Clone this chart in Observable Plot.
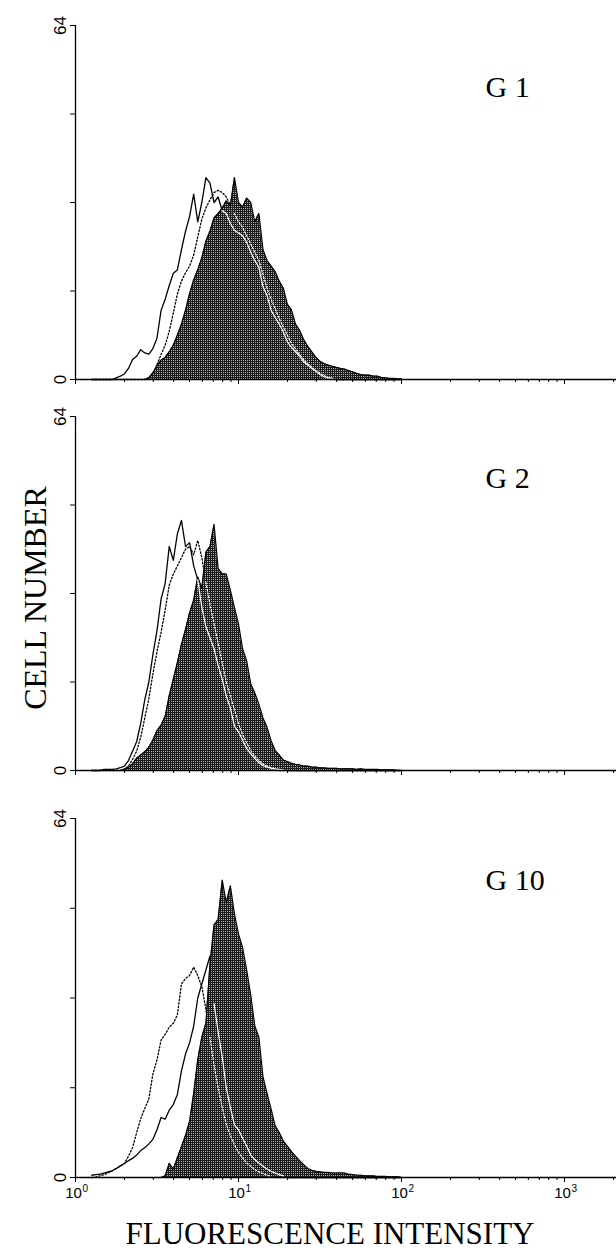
<!DOCTYPE html>
<html><head><meta charset="utf-8">
<script src="https://cdn.jsdelivr.net/npm/d3@7"></script>
<script src="https://cdn.jsdelivr.net/npm/@observablehq/plot@0.6"></script>
<style>
html,body{margin:0;padding:0;background:#fff;}
#fig{position:relative;width:616px;height:1254px;overflow:hidden;background:#fff;}
.panel{position:absolute;left:0;}
.ttl{position:absolute;font-family:"Liberation Serif","Times New Roman",serif;color:#000;white-space:nowrap;line-height:1;}
</style></head><body>
<div id="fig"></div>
<script>
// Channel grid (log10 of fluorescence intensity), instrument bins
const logStart = 0.1, logStep = 0.025, nBins = 77;

// Panel G 1
const g1Solid = [
 0,0,0,0,0,0,0.3,0.6,1.0,2.0,
 3.6,4.2,5.4,4.8,4.6,5.6,7.5,12.5,14.5,17.0,
 19.2,19.8,23.5,26.8,29.5,33.5,28.5,32.0,36.5,35.5,
 32.0,33.0,30.5,30.0,28.2,27.0,26.5,26.0,24.8,23.0,
 21.5,20.3,16.8,15.2,12.5,11.2,10.0,8.6,6.8,5.8,
 5.0,4.2,3.2,2.6,2.0,1.5,0.9,0.5,0.3,0.2,
 0,0,0,0,0,0,0,0,0,0,
 0,0,0,0,0,0,0];
const g1Dotted = [
 0,0,0,0,0,0,0,0,0,0,
 0,0,0,0,0.3,1.0,2.7,4.5,6.2,8.7,
 12.0,15.5,17.8,19.3,20.5,22.5,25.8,29.0,31.0,32.5,
 33.8,34.2,33.8,33.0,31.5,30.0,28.5,27.5,26.0,24.5,
 23.0,21.5,19.0,16.5,14.5,12.8,11.0,9.5,8.0,6.5,
 5.5,4.5,3.6,2.8,2.2,1.6,1.1,0.7,0.4,0.2,
 0,0,0,0,0,0,0,0,0,0,
 0,0,0,0,0,0,0];
const g1Filled = [
 0,0,0,0,0,0,0,0,0,0,
 0,0,0,0,0.3,1.2,2.5,3.5,4.0,5.0,
 6.2,8.0,10.0,12.5,15.5,18.0,19.8,22.0,25.0,26.8,
 29.2,30.0,31.0,32.3,31.4,36.5,32.0,31.2,32.8,32.0,
 28.5,30.0,23.5,21.5,20.5,19.5,17.8,16.5,13.6,12.6,
 10.0,8.9,7.2,6.0,5.0,4.0,3.3,2.9,2.6,2.4,
 2.2,2.0,1.9,1.6,1.4,1.1,0.9,0.8,0.8,0.6,
 0.6,0.4,0.3,0.2,0.2,0.1,0.1];

// Panel G 2
const g2Solid = [
 0,0,0,0.2,0.2,0.2,0.3,0.5,0.8,1.8,
 3.5,5.2,8.5,12.8,16.0,21.0,25.3,31.0,33.8,40.5,
 38.0,42.8,45.2,40.5,41.2,37.0,34.5,29.5,26.0,24.0,
 22.0,19.0,16.5,13.5,11.3,8.0,7.0,5.5,4.0,3.0,
 2.2,1.4,0.9,0.6,0.4,0.3,0.2,0.1,0,0,
 0,0,0,0,0,0,0,0,0,0,
 0,0,0,0,0,0,0,0,0,0,
 0,0,0,0,0,0,0];
const g2Dotted = [
 0,0,0,0,0,0,0,0,0.3,0.8,
 2.0,3.5,6.0,9.5,13.0,17.5,21.5,25.0,29.0,33.5,
 35.5,37.0,38.5,40.0,40.5,39.0,41.6,38.5,34.0,30.0,
 26.5,23.0,19.5,16.0,13.5,11.0,8.5,6.5,5.0,3.6,
 2.6,1.8,1.2,0.8,0.5,0.3,0,0,0,0,
 0,0,0,0,0,0,0,0,0,0,
 0,0,0,0,0,0,0,0,0,0,
 0,0,0,0,0,0,0];
const g2Filled = [
 0,0,0,0,0,0,0,0,0.2,0.6,
 1.2,2.2,2.8,3.4,4.2,5.5,7.2,8.2,9.8,13.5,
 16.5,19.5,22.8,25.5,28.5,30.8,35.0,33.0,39.5,40.5,
 44.5,36.5,35.6,35.5,32.6,29.5,26.5,22.0,19.8,15.7,
 14.0,12.0,9.5,7.8,5.4,3.6,2.8,1.9,1.6,1.3,
 1.1,1.0,0.8,0.8,0.6,0.6,0.5,0.5,0.4,0.4,
 0.4,0.3,0.3,0.3,0.3,0.2,0.3,0.2,0.2,0.2,
 0.2,0.1,0.1,0.1,0.1,0,0];

// Panel G 10
const g10Solid = [
 0.4,0.5,0.6,0.8,1.0,1.2,1.6,2.1,2.5,3.0,
 3.4,4.0,4.8,5.3,6.0,6.8,8.5,10.7,10.4,12.0,
 13.0,14.8,19.0,22.0,24.0,27.0,32.0,34.5,37.0,39.5,
 31.0,26.0,21.5,16.0,12.5,9.4,8.5,7.0,5.6,4.0,
 3.2,2.6,2.0,1.5,1.1,0.8,0.5,0.3,0,0,
 0,0,0,0,0,0,0,0,0,0,
 0,0,0,0,0,0,0,0,0,0,
 0,0,0,0,0,0,0];
const g10Dotted = [
 0,0.1,0.3,0.5,0.8,1.2,1.6,2.0,2.5,3.8,
 5.3,8.0,10.5,12.3,14.0,18.5,21.0,24.5,25.5,26.8,
 27.5,29.0,34.5,35.5,36.0,37.5,36.0,34.0,30.0,25.0,
 20.0,16.0,12.5,9.5,7.5,5.8,4.5,3.5,2.6,2.0,
 1.4,1.0,0.7,0.4,0.2,0,0,0,0,0,
 0,0,0,0,0,0,0,0,0,0,
 0,0,0,0,0,0,0,0,0,0,
 0,0,0,0,0,0,0];
const g10Filled = [
 0,0,0,0,0,0,0,0,0,0,
 0,0,0,0,0,0,0,0,0.3,2.5,
 1.5,3.5,5.5,7.5,10.0,15.0,21.0,25.0,27.5,38.0,
 45.0,46.0,53.0,49.0,52.0,47.0,43.4,41.0,37.0,32.5,
 27.0,25.0,18.0,15.0,12.2,9.2,8.0,6.5,5.6,4.6,
 3.8,3.0,2.3,1.6,1.3,1.1,1.0,0.9,0.9,0.8,
 0.8,0.8,0.8,0.6,0.5,0.4,0.4,0.3,0.3,0.3,
 0.2,0.2,0.2,0.1,0.1,0.1,0];

const panelLabels = ["G 1", "G 2", "G 10"];
const yTickValues = [0, 16, 32, 48, 64];
const yLabelValues = [0, 64];
const xMajorTicks = [1, 10, 100, 1000];
const xMinorTicks = [2,3,4,5,6,7,8,9,20,30,40,50,60,70,80,90,200,300,400,500,600,700,800,900,2000];
const xTickExponents = ["0", "1", "2", "3"];
const yTitle = "CELL NUMBER";
const xTitle = "FLUORESCENCE INTENSITY";

const channels = d3.range(nBins).map(i => 10 ** (logStart + logStep * i));

const W = 616, X0 = 75;
const xDomain = [1, 2084];
const pxPerDecade = (W - X0) / Math.log10(xDomain[1]);

const layout = [
  {top: 25, base: 379},
  {top: 416, base: 770},
  {top: 818, base: 1177}
];
const series = [
  [g1Solid, g1Dotted, g1Filled],
  [g2Solid, g2Dotted, g2Filled],
  [g10Solid, g10Dotted, g10Filled]
];

const fig = document.getElementById("fig");

series.forEach(([solid, dotted, filled], k) => {
  const {top, base} = layout[k];
  const isBottom = k === 2;
  const H = base - top;
  const mt = 14, mb = isBottom ? 34 : 12;
  const u = 64 / H; // data units per px
  const rows = channels.map((x, i) => ({x, solid: solid[i], dotted: dotted[i], filled: filled[i]}));
  const inside = key => d => (d[key] <= d.filled && d.filled > 0.3 && d[key] > 0) ? d[key] : NaN;
  const pid = "stip" + k;
  const marks = [
    Plot.lineY(rows, {x: "x", y: "solid", stroke: "black", strokeWidth: 1.3}),
    Plot.lineY(rows, {x: "x", y: "dotted", stroke: "black", strokeWidth: 1.3, strokeDasharray: "1.5,2"}),
    Plot.areaY(rows, {x: "x", y: "filled", fill: `url(#${pid})`}),
    Plot.lineY(rows, {x: "x", y: "filled", stroke: "black", strokeWidth: 1.2}),
    Plot.lineY(rows, {x: "x", y: inside("solid"), stroke: "white", strokeWidth: 1.2}),
    Plot.lineY(rows, {x: "x", y: inside("dotted"), stroke: "white", strokeWidth: 1.2, strokeDasharray: "1.5,2"}),
    Plot.ruleY([0], {stroke: "black", strokeWidth: 1.5}),
    Plot.ruleX([1], {y1: 0, y2: 64, stroke: "black", strokeWidth: 1.3}),
    Plot.ruleY(yTickValues, {y: d => d, x1: 10 ** (-5 / pxPerDecade), x2: 1, stroke: "black"}),
    Plot.text(yLabelValues, {x: 1, y: d => d, text: d => String(d), rotate: -90, dx: -15, fontSize: 17, fontFamily: "Liberation Sans, Arial, sans-serif"}),
    Plot.ruleX(xMinorTicks, {x: d => d, y1: 0, y2: -3 * u, stroke: "black"}),
    Plot.ruleX(xMajorTicks, {x: d => d, y1: 0, y2: -5 * u, stroke: "black"}),
    Plot.text([panelLabels[k]], {frameAnchor: "top-left", text: d => d, dx: 410, dy: 50, textAnchor: "start", fontSize: 30, fontFamily: "Liberation Serif, Times New Roman, serif"})
  ];
  if (isBottom) {
    marks.push(
      Plot.text(xMajorTicks, {x: d => d, y: 0, text: () => "10", dy: 16, dx: -2, fontSize: 15, fontFamily: "Liberation Sans, Arial, sans-serif"}),
      Plot.text(xMajorTicks, {x: d => d, y: 0, text: (d, i) => xTickExponents[i], dy: 11, dx: 7, textAnchor: "start", fontSize: 10, fontFamily: "Liberation Sans, Arial, sans-serif"})
    );
  }
  const svg = Plot.plot({
    width: W, height: mt + H + mb,
    marginLeft: X0, marginRight: 0, marginTop: mt, marginBottom: mb,
    x: {type: "log", domain: xDomain, axis: null},
    y: {domain: [0, 64], axis: null},
    style: {background: "transparent", fontFamily: "Liberation Sans, Arial, sans-serif", color: "black"},
    marks
  });
  const defs = d3.select(svg).insert("defs", ":first-child");
  const pat = defs.append("pattern").attr("id", pid).attr("width", 2).attr("height", 2).attr("patternUnits", "userSpaceOnUse");
  pat.append("rect").attr("width", 2).attr("height", 2).attr("fill", "#1c1c1c");
  pat.append("rect").attr("x", 1).attr("y", 1).attr("width", 1).attr("height", 1).attr("fill", "#b0b0b0");
  svg.classList.add("panel");
  svg.style.top = (top - mt) + "px";
  fig.appendChild(svg);
});

const yt = document.createElement("div");
yt.className = "ttl";
yt.textContent = yTitle;
yt.style.fontSize = "32px";
yt.style.left = "35px";
yt.style.top = "598px";
yt.style.transform = "translate(-50%,-50%) rotate(-90deg)";
fig.appendChild(yt);

const xt = document.createElement("div");
xt.className = "ttl";
xt.textContent = xTitle;
xt.style.fontSize = "31px";
xt.style.left = "330px";
xt.style.top = "1218px";
xt.style.transform = "translateX(-50%)";
fig.appendChild(xt);
</script>
</body></html>
